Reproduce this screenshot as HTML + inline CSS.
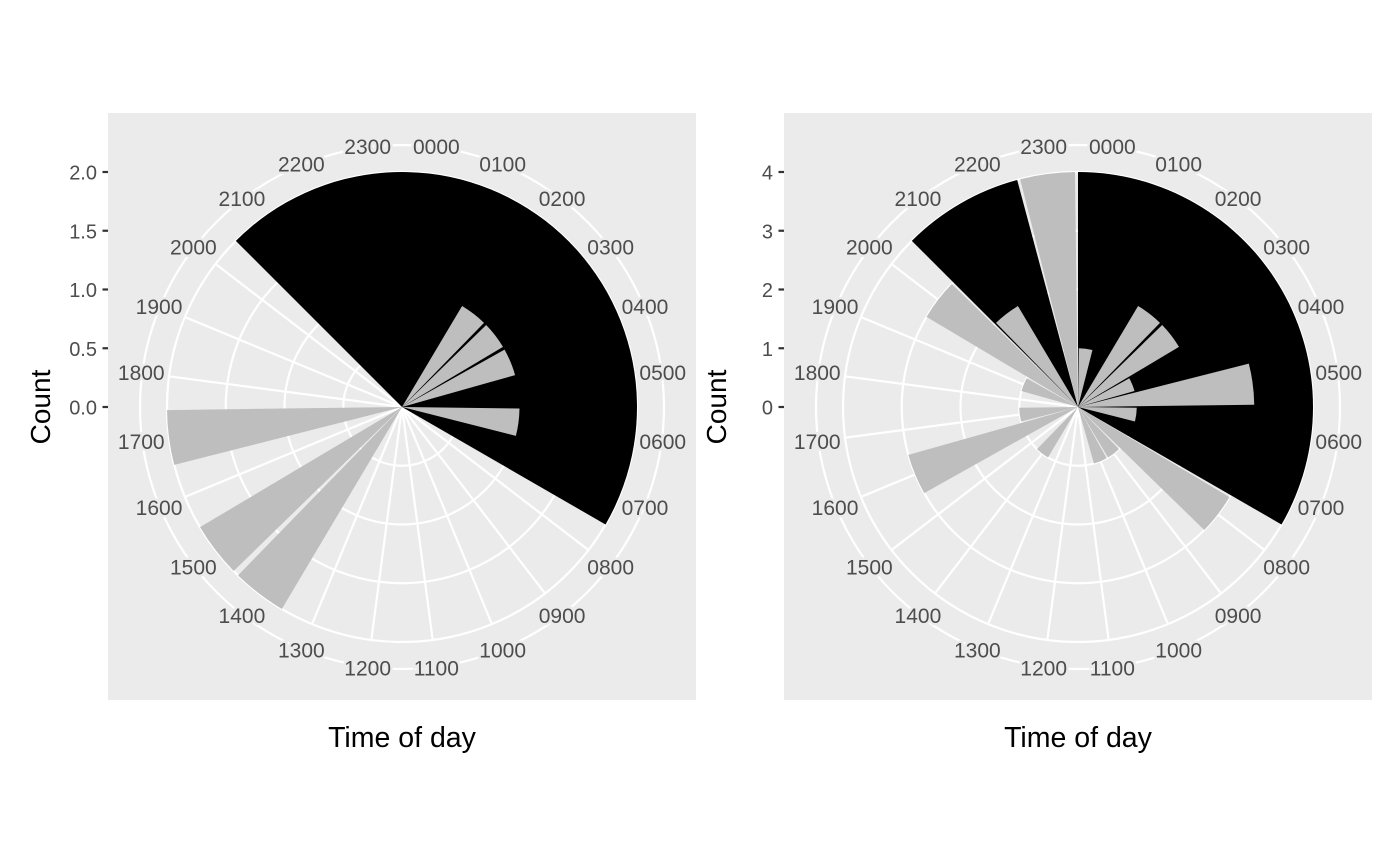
<!DOCTYPE html>
<html>
<head>
<meta charset="utf-8">
<style>
  html,body{margin:0;padding:0;background:#fff;}
  svg{display:block;}
  text{font-family:"Liberation Sans", Arial, sans-serif;}
</style>
</head>
<body>
<svg id="chart" width="1400" height="866" viewBox="0 0 1400 866" xmlns="http://www.w3.org/2000/svg">
  <rect x="0" y="0" width="1400" height="866" fill="#ffffff"/>
</svg>
<script>
const hourLabels = ["0000","0100","0200","0300","0400","0500","0600","0700","0800","0900","1000","1100","1200","1300","1400","1500","1600","1700","1800","1900","2000","2100","2200","2300"];
const leftCounts = [0,0,1,1,1,0,1,0,0,0,0,0,0,0,2,2,0,2,0,0,0,0,0,0];
const leftNight = [2,2,2,2,2,2,2,2,0,0,0,0,0,0,0,0,0,0,0,0,0,2,2,2];
const leftTicks = [0,0.5,1,1.5,2];
const leftTickLabels = ["0.0","0.5","1.0","1.5","2.0"];
const rightCounts = [1,0,2,2,1,3,1,0,3,1,1,0,0,0,1,0,3,1,0,1,3,2,0,4];
const rightNight = [4,4,4,4,4,4,4,4,0,0,0,0,0,0,0,0,0,0,0,0,0,4,4,0];
const rightTicks = [0,1,2,3,4];
const rightTickLabels = ["0","1","2","3","4"];

const NS = "http://www.w3.org/2000/svg";
const svg = document.getElementById("chart");
function mk(tag, attrs, parent){
  const e = document.createElementNS(NS, tag);
  for (const k in attrs) e.setAttribute(k, attrs[k]);
  (parent||svg).appendChild(e);
  return e;
}

function drawPanel(px, prefix, counts, night, ticks, tickLabels, ymax){
  const py = 113, pw = 588, ph = 587;
  const cx = px + pw/2, cy = py + 294;
  const R = 235, outerR = 262;
  const g = mk("g", {});
  
  
  const bg = mk("rect", {x:px, y:py, width:pw, height:ph, fill:"#EBEBEB"}, g);
  
  
  const rScale = v => v / ymax * R;
  const ang = i => (i + 0.5) * 15;
  const pt = (a, r) => [cx + r*Math.sin(a*Math.PI/180), cy - r*Math.cos(a*Math.PI/180)];
  function wedge(a1, a2, r){
    const p1 = pt(a1, r), p2 = pt(a2, r);
    const large = (a2 - a1) > 180 ? 1 : 0;
    return `M${cx},${cy} L${p1[0]},${p1[1]} A${r},${r} 0 ${large} 1 ${p2[0]},${p2[1]} Z`;
  }
  ticks.forEach((t) => {
    const c = mk("circle", {cx:cx, cy:cy, r:rScale(t), fill:"none", stroke:"#fff", "stroke-width":2.2}, g);
    
    
  });
  const oc = mk("circle", {cx:cx, cy:cy, r:outerR, fill:"none", stroke:"#fff", "stroke-width":2.2}, g);
  
  
  hourLabels.forEach((h, i) => {
    const p = pt(ang(i), R);
    const l = mk("line", {x1:cx, y1:cy, x2:p[0], y2:p[1], stroke:"#fff", "stroke-width":2.2}, g);
    
    
  });
  // night wedges: merge contiguous runs of equal value (with wrap-around)
  const n = night.length;
  let start = -1;
  for (let k = 0; k < n; k++) { if (night[k] > 0 && night[(k - 1 + n) % n] !== night[k]) { start = k; break; } }
  if (start < 0 && night[0] > 0) start = 0;
  if (start >= 0) {
    let k = 0;
    while (k < n) {
      const i = (start + k) % n;
      const v = night[i];
      let len = 1;
      while (len < n - k && night[(start + k + len) % n] === v) len++;
      if (v > 0) {
        const a1 = ang(i) - 7.5;
        const w = mk("path", {d: wedge(a1, a1 + 15*len, rScale(v)), fill:"#000"}, g);
        
        
      }
      k += len;
    }
  }
  counts.forEach((v, i) => {
    if (v <= 0) return;
    const a = ang(i);
    const b = mk("path", {d: wedge(a - 6.75, a + 6.75, rScale(v)), fill:"#BEBEBE"}, g);
    
    
  });
  hourLabels.forEach((h, i) => {
    const p = pt(ang(i), outerR + 1);
    const t = mk("text", {x:p[0], y:p[1] + 7.5, "text-anchor":"middle", "font-size":21, fill:"#4D4D4D",
      stroke:"#EBEBEB", "stroke-width":5, "paint-order":"stroke"}, g);
    t.textContent = h;
    
    
  });
  ticks.forEach((tv, i) => {
    const y = cy - rScale(tv);
    const tk = mk("line", {x1:px-5.5, y1:y, x2:px, y2:y, stroke:"#333", "stroke-width":2.2}, g);
    
    
    const tl = mk("text", {x:px-11, y:y+7.5, "text-anchor":"end", "font-size":20, fill:"#4D4D4D"}, g);
    tl.textContent = tickLabels[i];
    
    
  });
  const yt = mk("text", {x:0, y:0, "text-anchor":"middle", "font-size":28, fill:"#000",
    transform:`translate(${px-58},${cy}) rotate(-90)`}, g);
  yt.textContent = "Count";
  
  
  const xt = mk("text", {x:cx, y:747, "text-anchor":"middle", "font-size":28.5, fill:"#000"}, g);
  xt.textContent = "Time of day";
  
  
}

drawPanel(108, "left", leftCounts, leftNight, leftTicks, leftTickLabels, 2);
drawPanel(784, "right", rightCounts, rightNight, rightTicks, rightTickLabels, 4);
</script>
</body>
</html>
